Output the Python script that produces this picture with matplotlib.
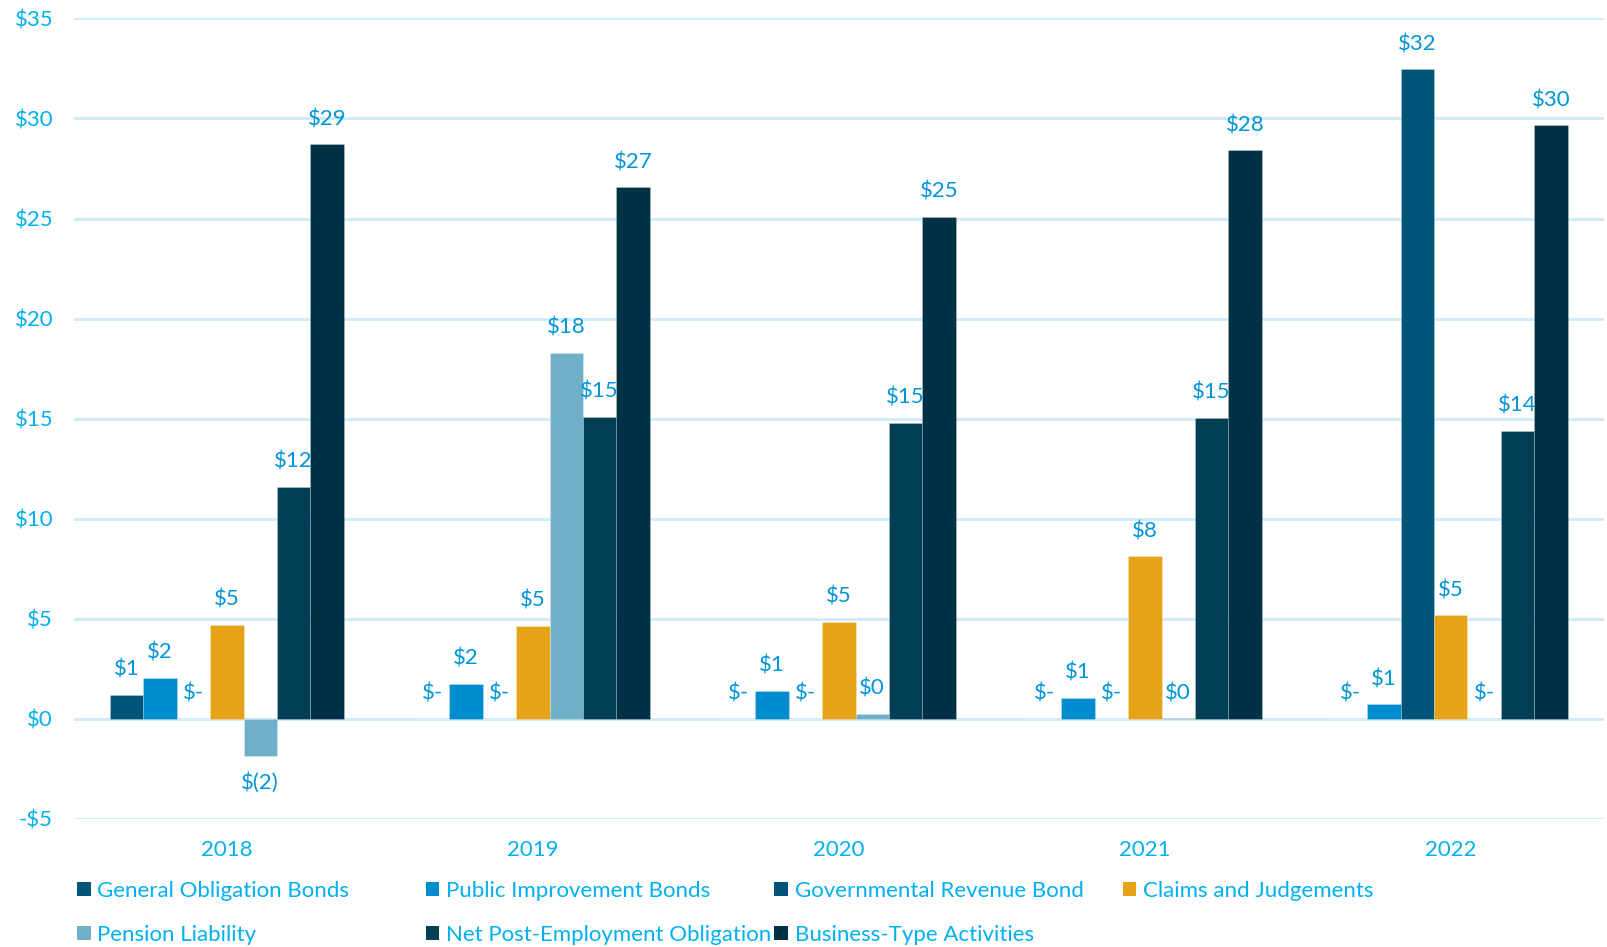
import matplotlib.pyplot as plt
from matplotlib.patches import Patch
import numpy as np

plt.rcParams['font.family'] = ['Lato', 'DejaVu Sans']

years = ['2018', '2019', '2020', '2021', '2022']
series_names = ['General Obligation Bonds', 'Public Improvement Bonds', 'Governmental Revenue Bond',
                'Claims and Judgements', 'Pension Liability', 'Net Post-Employment Obligation',
                'Business-Type Activities']
colors = ['#01557A', '#018CCE', '#005479', '#E7A317', '#70AFC8', '#023F57', '#013147']

general_obligation = [1.2, 0, 0, 0, 0]
public_improvement = [2.05, 1.75, 1.4, 1.05, 0.72]
governmental_revenue = [0, 0, 0, 0, 32.45]
claims_judgements = [4.7, 4.65, 4.85, 8.12, 5.17]
pension_liability = [-1.85, 18.3, 0.25, 0.02, 0]
net_post_employment = [11.6, 15.1, 14.8, 15.05, 14.4]
business_type = [28.7, 26.55, 25.1, 28.4, 29.65]

series = [general_obligation, public_improvement, governmental_revenue, claims_judgements,
          pension_liability, net_post_employment, business_type]

TICK_BLUE = '#00B0F0'
LABEL_BLUE = '#0095D9'
GRID = '#CDEBFA'
FS = 16


def money(v):
    if v == 0:
        return '$-'
    if v < 0:
        return f'$({abs(round(v)):.0f})'
    return f'${round(v):.0f}'


fig = plt.figure(figsize=(16.07, 9.47), dpi=100)
ax = fig.add_axes([0.046, 0.1352, 0.952, 0.8454])

x = np.arange(len(years))
w = 0.1091
for i, (vals, name, col) in enumerate(zip(series, series_names, colors)):
    pos = x + (i - 3) * w
    ax.bar(pos, vals, width=w, color=col, edgecolor=(1, 1, 1, 0.25), linewidth=0.6,
           label=name, zorder=3)
    for px, v in zip(pos, vals):
        off = -19.5 if v < 0 else 18
        ax.annotate(money(v), (px, v), xytext=(0, off), textcoords='offset points',
                    ha='center', va='center', fontsize=FS, color=LABEL_BLUE, zorder=4)

ax.set_xlim(-0.5, 4.5)
ax.set_ylim(-5, 35)
ax.set_yticks(range(-5, 36, 5))
ax.set_yticklabels(['-$5'] + [f'${t}' for t in range(0, 36, 5)])
ax.set_xticks(x)
ax.set_xticklabels(years)
ax.tick_params(axis='y', length=0, pad=15, labelsize=FS, labelcolor=TICK_BLUE)
ax.tick_params(axis='x', length=0, pad=15.5, labelsize=FS, labelcolor=TICK_BLUE)
ax.grid(axis='y', color=GRID, linewidth=2, zorder=0)
for s in ax.spines.values():
    s.set_visible(False)

# legend laid out in two rows of four equal-width columns
col_x = [0.0479 + k * 0.2169 for k in range(4)]
row_y = [0.0596, 0.0130]
for i, (name, col) in enumerate(zip(series_names, colors)):
    r, c = divmod(i, 4)
    fig.legend(handles=[Patch(facecolor=col)], labels=[name], loc='center left',
               bbox_to_anchor=(col_x[c], row_y[r]), frameon=False, borderpad=0,
               borderaxespad=0, handlelength=0.62, handleheight=0.62, handletextpad=0.3,
               fontsize=FS, labelcolor=TICK_BLUE)

fig.savefig('out.png', dpi=100)
plt.close(fig)
